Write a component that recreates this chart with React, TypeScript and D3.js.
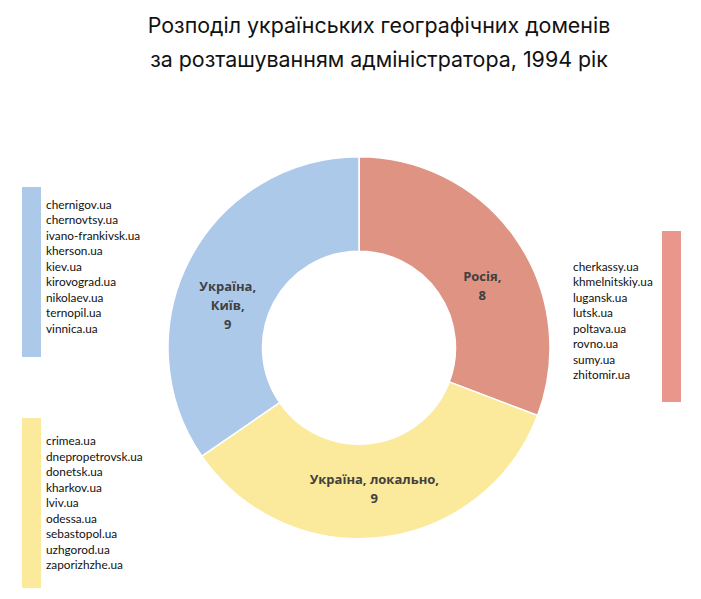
import React from "react";
import * as d3 from "d3";

const categories = ["Росія", "Україна, локально", "Україна, Київ"];
const labelLines = [["Росія,", "8"], ["Україна, локально,", "9"], ["Україна,", "Київ,", "9"]];
const values = [8, 9, 9];
const colors = ["#df9382", "#fbe99c", "#adc9e9"];

const kyivDomains = ["chernigov.ua", "chernovtsy.ua", "ivano-frankivsk.ua", "kherson.ua", "kiev.ua", "kirovograd.ua", "nikolaev.ua", "ternopil.ua", "vinnica.ua"];
const localDomains = ["crimea.ua", "dnepropetrovsk.ua", "donetsk.ua", "kharkov.ua", "lviv.ua", "odessa.ua", "sebastopol.ua", "uzhgorod.ua", "zaporizhzhe.ua"];
const russiaDomains = ["cherkassy.ua", "khmelnitskiy.ua", "lugansk.ua", "lutsk.ua", "poltava.ua", "rovno.ua", "sumy.ua", "zhitomir.ua"];

const titleLines = ["Розподіл українських географічних доменів", "за розташуванням адміністратора, 1994 рік"];

const W = 701, H = 599;
const cx = 359, cy = 347.7, outerR = 191, innerR = 96.5;
// label nudges (styling)
const labelNudge = [[5, 20], [-2, -1], [-4, 25]];

export default function App() {
  const pie = d3.pie<number>().sort(null).value((d) => d);
  const arcs = pie(values);
  const arc = d3.arc<d3.PieArcDatum<number>>().innerRadius(innerR).outerRadius(outerR);
  const lineH = 19;
  const legendStep = 15.5;

  const legend = (items: string[], barX: number, barY: number, barH: number, textX: number, textY: number, color: string) => (
    <g>
      <rect x={barX} y={barY} width={19} height={barH} fill={color} />
      {items.map((t, i) => (
        <text key={t} x={textX} y={textY + i * legendStep} dy="0.35em" fontFamily="Lato, 'Open Sans', sans-serif" fontSize={11.8} fill="#111">
          {t}
        </text>
      ))}
    </g>
  );

  return (
    <svg width={W} height={H} style={{ position: "absolute", left: 0, top: 0, background: "#fff" }}>
      <rect width={W} height={H} fill="#fff" />
      {titleLines.map((t, i) => (
        <text key={i} x={379} y={33 + i * 34} textAnchor="middle" fontFamily="Inter, sans-serif" fontSize={21.4} fill="#111">
          {t}
        </text>
      ))}
      <g transform={`translate(${cx},${cy})`}>
        {arcs.map((a, i) => (
          <path key={categories[i]} d={arc(a) || ""} fill={colors[i]} stroke="#fff" strokeWidth={1.5} />
        ))}
        {arcs.map((a, i) => {
          const [x, y] = arc.centroid(a);
          const lines = labelLines[i];
          const x0 = x + labelNudge[i][0];
          const y0 = y + labelNudge[i][1] - ((lines.length - 1) * lineH) / 2;
          return (
            <text key={"l" + i} textAnchor="middle" fontFamily="'Open Sans', sans-serif" fontWeight={700} fontSize={13} fill="#404040">
              {lines.map((ln, j) => (
                <tspan key={j} x={x0} y={y0 + j * lineH} dy="0.35em">
                  {ln}
                </tspan>
              ))}
            </text>
          );
        })}
      </g>
      {legend(kyivDomains, 22, 187, 170, 46, 204.5, colors[2])}
      {legend(localDomains, 22, 418, 170, 46, 441, colors[1])}
      {legend(russiaDomains, 662, 231, 171, 573, 266.5, "#e9968c")}
    </svg>
  );
}
